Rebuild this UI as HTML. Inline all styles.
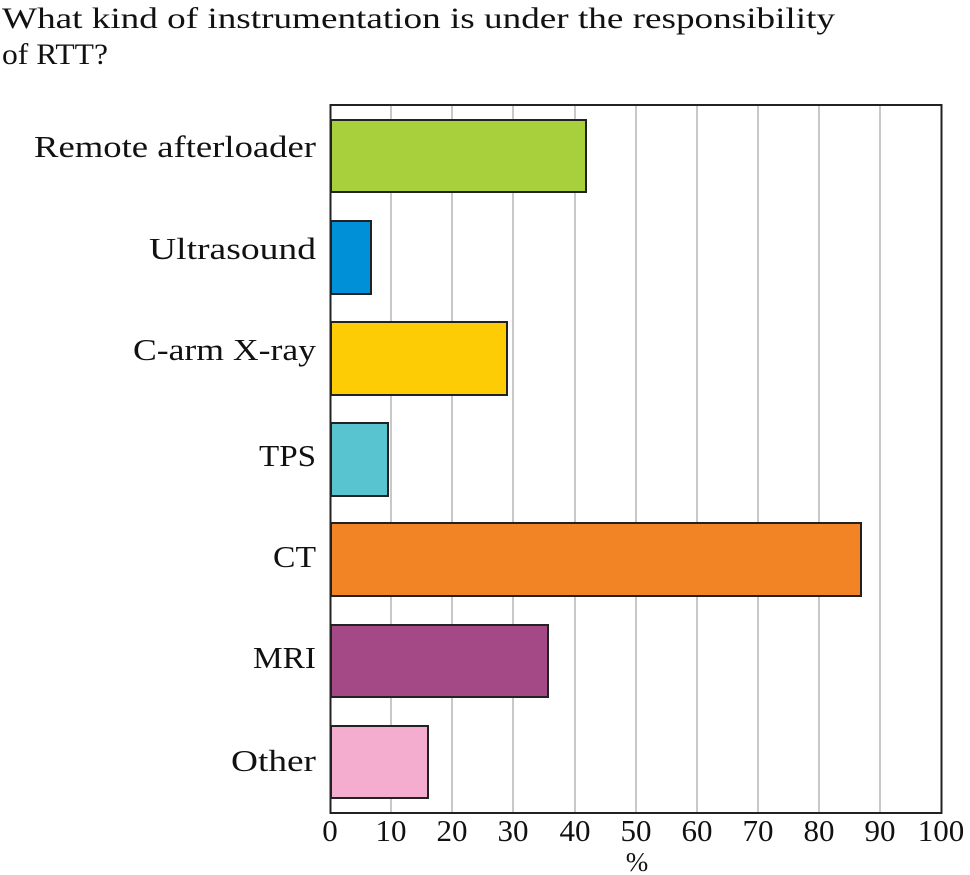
<!DOCTYPE html>
<html><head><meta charset="utf-8"><style>
html,body{margin:0;padding:0;background:#fff;}
svg{display:block;}
text{font-family:"Liberation Serif",serif;fill:#111;}
</style></head><body>
<svg width="970" height="875" viewBox="0 0 970 875" xmlns="http://www.w3.org/2000/svg">
<text x="2" y="28" font-size="30" textLength="833" lengthAdjust="spacingAndGlyphs">What kind of instrumentation is under the responsibility</text>
<text x="2" y="64" font-size="30" textLength="106" lengthAdjust="spacingAndGlyphs">of RTT?</text>
<g stroke="#c8c8c8" stroke-width="2">
<line x1="391" y1="105" x2="391" y2="812"/>
<line x1="452" y1="105" x2="452" y2="812"/>
<line x1="513" y1="105" x2="513" y2="812"/>
<line x1="575" y1="105" x2="575" y2="812"/>
<line x1="636" y1="105" x2="636" y2="812"/>
<line x1="697" y1="105" x2="697" y2="812"/>
<line x1="758" y1="105" x2="758" y2="812"/>
<line x1="819" y1="105" x2="819" y2="812"/>
<line x1="880" y1="105" x2="880" y2="812"/>
</g>
<rect x="330.5" y="105" width="611" height="708" fill="none" stroke="#222" stroke-width="2"/>
<g stroke="#222" stroke-width="2">
<rect x="331" y="120" width="255" height="72" fill="#a8cf3c"/>
<rect x="331" y="221" width="40" height="73" fill="#0090d8"/>
<rect x="331" y="322" width="176" height="73" fill="#fecc05"/>
<rect x="331" y="423" width="57" height="73" fill="#58c4d0"/>
<rect x="331" y="523" width="530" height="73" fill="#f28425"/>
<rect x="331" y="625" width="217" height="72" fill="#a54886"/>
<rect x="331" y="726" width="97" height="72" fill="#f5adcf"/>
</g>
<g font-size="31" text-anchor="end">
<text x="316" y="157" textLength="282" lengthAdjust="spacingAndGlyphs">Remote afterloader</text>
<text x="316" y="259" textLength="167" lengthAdjust="spacingAndGlyphs">Ultrasound</text>
<text x="316" y="360" textLength="183" lengthAdjust="spacingAndGlyphs">C-arm X-ray</text>
<text x="316" y="466" textLength="57" lengthAdjust="spacingAndGlyphs">TPS</text>
<text x="316" y="567" textLength="43" lengthAdjust="spacingAndGlyphs">CT</text>
<text x="316" y="668" textLength="63" lengthAdjust="spacingAndGlyphs">MRI</text>
<text x="316" y="771" textLength="85" lengthAdjust="spacingAndGlyphs">Other</text>
</g>
<g font-size="31" text-anchor="middle">
<text x="330" y="841">0</text>
<text x="391" y="841">10</text>
<text x="452" y="841">20</text>
<text x="513" y="841">30</text>
<text x="575" y="841">40</text>
<text x="636" y="841">50</text>
<text x="697" y="841">60</text>
<text x="758" y="841">70</text>
<text x="819" y="841">80</text>
<text x="880" y="841">90</text>
<text x="941" y="841">100</text>
<text x="637" y="871" font-size="27">%</text>
</g>
</svg>
</body></html>
